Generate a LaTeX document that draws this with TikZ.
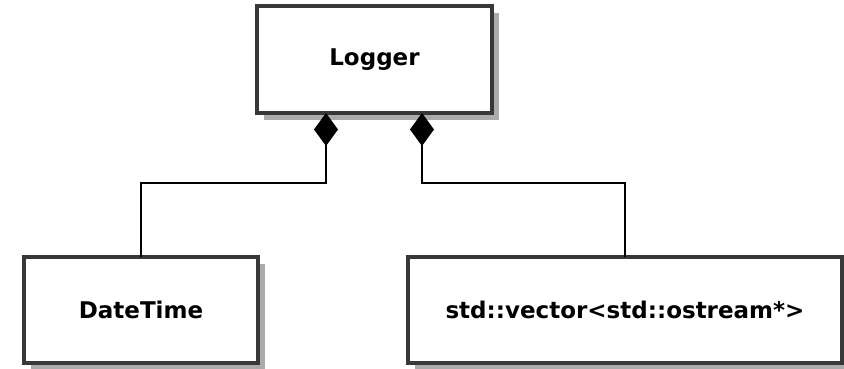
\documentclass[tikz,border=0pt]{standalone}
\usepackage{fontspec}
\setmainfont{DejaVu Sans}
\usetikzlibrary{arrows.meta,shadows,calc}
\begin{document}
\begin{tikzpicture}[x=1pt,y=-1pt,
  classbox/.style={draw=black!78, line width=3.4pt, fill=white, inner sep=0pt, outer sep=0pt,
    font=\fontsize{23}{27}\selectfont\bfseries,
    drop shadow={shadow xshift=6.5pt, shadow yshift=-6.5pt, fill=black!33, opacity=1}},
  compose/.style={line width=2.2pt, {Diamond[length=33pt,width=24pt,fill=black]}-}]
\useasboundingbox (0,0) rectangle (844,368);
\node[classbox, minimum width=235pt, minimum height=107pt] (lg) at (374.5,59.5) {Logger};
\node[classbox, minimum width=234pt, minimum height=106pt] (dt) at (141,310) {DateTime};
\node[classbox, minimum width=434pt, minimum height=106pt] (vec) at (625,310) {std::vector<std::ostream*>};
\draw[compose] ([xshift=-48.5pt]lg.south) -- ++(0,70) -| (dt.north);
\draw[compose] ([xshift=47.5pt]lg.south) -- ++(0,70) -| (vec.north);
\end{tikzpicture}
\end{document}
